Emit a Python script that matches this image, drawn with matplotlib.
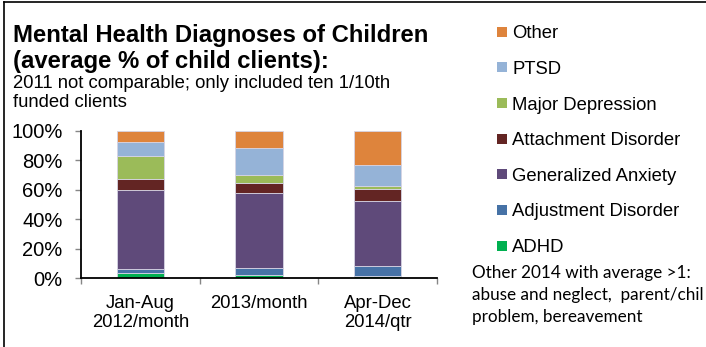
import matplotlib
matplotlib.use("Agg")
import matplotlib.pyplot as plt
from matplotlib.patches import Rectangle
from matplotlib.lines import Line2D
import numpy as np

# Share of child clients (%) by diagnosis for each reporting period
periods = ["Jan-Aug\n2012/month", "2013/month", "Apr-Dec\n2014/qtr"]
adhd = [3.6, 1.8, 1.4]
adjustment = [2.3, 5.0, 6.7]
generalized_anxiety = [53.6, 50.9, 44.0]
attachment = [7.7, 6.6, 8.3]
major_depression = [15.4, 5.4, 2.3]
ptsd = [9.7, 18.6, 14.0]
other = [7.7, 11.7, 23.3]

series_names = ["ADHD", "Adjustment Disorder", "Generalized Anxiety",
                "Attachment Disorder", "Major Depression", "PTSD", "Other"]
series_values = [adhd, adjustment, generalized_anxiety, attachment,
                 major_depression, ptsd, other]
series_colors = ["#00B050", "#4672A6", "#5F4A7A", "#632523",
                 "#9BBB59", "#95B3D7", "#DE843C"]

yticks = [0, 20, 40, 60, 80, 100]
ytick_labels = ["0%", "20%", "40%", "60%", "80%", "100%"]

W, H = 706, 347
fig = plt.figure(figsize=(W / 100, H / 100), dpi=100)
fig.patch.set_facecolor("white")

def px(x, y):
    """figure fraction from pixel position measured from top-left"""
    return x / W, 1 - y / H

ax_left, ax_right, ax_top, ax_bottom = 81, 437, 130.7, 278
ax = fig.add_axes([ax_left / W, 1 - ax_bottom / H,
                   (ax_right - ax_left) / W, (ax_bottom - ax_top) / H])

x = np.arange(len(periods))
totals = np.array([sum(v[i] for v in series_values) for i in range(len(periods))])
bottom = np.zeros(len(periods))
for name, vals, col in zip(series_names, series_values, series_colors):
    share = np.array(vals) / totals * 100
    ax.bar(x, share, width=0.4, bottom=bottom, color=col,
           edgecolor="#D6D4E4", linewidth=0.6)
    bottom += share

ax.set_xlim(-0.5, len(periods) - 0.5)
ax.set_ylim(0, 100)
ax.set_yticks(yticks)
ax.set_yticklabels(ytick_labels, fontsize=14.5, family="Liberation Sans")
ax.set_xticks(x)
ax.set_xticklabels(periods, fontsize=13.3, family="Liberation Sans",
                   linespacing=1.15)
ax.set_xticks(np.arange(-0.5, len(periods)), minor=True)
ax.tick_params(axis="x", which="major", length=0, pad=12)
ax.tick_params(axis="x", which="minor", length=4.3, color="#868686", width=1)
ax.tick_params(axis="y", length=4.3, color="#868686", width=1, pad=9)
for s in ["top", "right"]:
    ax.spines[s].set_visible(False)
for s in ["left", "bottom"]:
    ax.spines[s].set_color("black")
    ax.spines[s].set_linewidth(1.3)

# Title block
fig.text(*px(13, 42), "Mental Health Diagnoses of Children", fontsize=17.2,
         fontweight="bold", family="Liberation Sans", va="baseline")
fig.text(*px(13, 68), "(average % of child clients):", fontsize=17.2,
         fontweight="bold", family="Liberation Sans", va="baseline")
fig.text(*px(13, 88), "2011 not comparable; only included ten 1/10th",
         fontsize=13.3, family="Liberation Sans", va="baseline")
fig.text(*px(13, 107), "funded clients",
         fontsize=13.3, family="Liberation Sans", va="baseline")

# Legend (top entry is the top segment)
leg_y = [31.7, 67.3, 103.0, 138.6, 174.2, 209.8, 245.5]
for yy, name, col in zip(leg_y, series_names[::-1], series_colors[::-1]):
    fx, fy = px(496.7, yy + 5)
    fig.patches.append(Rectangle((fx, fy), 10 / W, 10 / H, transform=fig.transFigure,
                                 facecolor=col, edgecolor="none"))
    fig.text(*px(512, yy), name, fontsize=13.3, family="Liberation Sans",
             va="center_baseline")

note = "Other 2014 with average >1:\nabuse and neglect,  parent/chil\nproblem, bereavement"
fig.text(*px(472, 265), note, fontsize=12.3, family="Lato", va="top",
         linespacing=1.45)

# Frame lines along the top and left edges
fig.add_artist(Line2D([4 / W, 4 / W], [0, 1 - 2 / H], transform=fig.transFigure,
                      color="black", linewidth=1.2))
fig.add_artist(Line2D([4 / W, 1], [1 - 2 / H, 1 - 2 / H], transform=fig.transFigure,
                      color="black", linewidth=1.2))

fig.savefig("out.png", dpi=100)
